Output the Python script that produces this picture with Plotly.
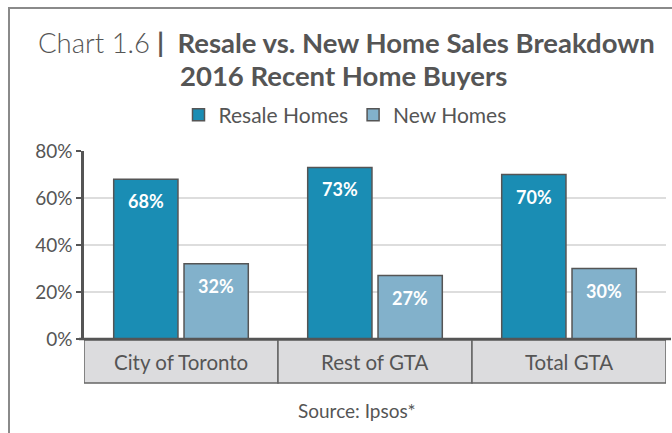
import plotly.graph_objects as go

categories = ["City of Toronto", "Rest of GTA", "Total GTA"]
resale = [68, 73, 70]
new_homes = [32, 27, 30]
series_names = ["Resale Homes", "New Homes"]
y_ticks = [0, 20, 40, 60, 80]
y_tick_labels = ["0%", "20%", "40%", "60%", "80%"]

W, H = 672, 433
ML, MR, MT, MB = 84, 6, 151, 94
PW, PH = W - ML - MR, H - MT - MB
BARGAP = 0.275
FONT = "Lato"
TXT = "#555555"


def px(xp):
    return (xp - ML) / PW


def py(yp):
    return (H - MB - yp) / PH


fig = go.Figure()
fig.add_bar(name=series_names[0], x=categories, y=resale,
            marker=dict(color="#1A8DB4", line=dict(color="#555555", width=1.5)))
fig.add_bar(name=series_names[1], x=categories, y=new_homes,
            marker=dict(color="#82B1CB", line=dict(color="#555555", width=1.5)))

shapes = []
annotations = []
# frame
shapes.append(dict(type="rect", xref="paper", yref="paper", x0=px(9), x1=px(700),
                   y0=py(460), y1=py(8), line=dict(color="#8a8a8a", width=2),
                   fillcolor="rgba(0,0,0,0)", layer="below"))
# category boxes
for i, c in enumerate(categories):
    shapes.append(dict(type="rect", xref="x", yref="paper", x0=i - 0.5, x1=i + 0.5,
                       y0=py(383), y1=py(340), fillcolor="#DCDCDE",
                       line=dict(color="#666666", width=1.5), layer="above"))
    annotations.append(dict(x=i, y=py(362), xref="x", yref="paper", text=c,
                            xanchor="center", yanchor="middle",
                            showarrow=False, font=dict(family=FONT, size=20.5, color=TXT)))
# x axis line
shapes.append(dict(type="line", xref="paper", yref="paper", x0=px(79), x1=px(671),
                   y0=0, y1=0, line=dict(color="#555555", width=2.5)))

# data labels
off = (1 - BARGAP) / 4
for vals, sgn in ((resale, -1), (new_homes, 1)):
    for i, v in enumerate(vals):
        annotations.append(dict(x=i + sgn * off, y=v, xref="x", yref="y",
                                text=f"<b>{v}%</b>", showarrow=False, yanchor="top",
                                xanchor="center", yshift=-9,
                                font=dict(family=FONT, size=18, color="white")))

# titles
annotations.append(dict(x=px(346), y=py(42), xref="paper", yref="paper", showarrow=False,
                        xanchor="center", yanchor="middle",
                        text="<span style='font-weight:300'>Chart 1.6</span> <b>|  Resale vs. New Home Sales Breakdown</b>",
                        font=dict(family=FONT, size=27.5, color=TXT)))
annotations.append(dict(x=px(343), y=py(76), xref="paper", yref="paper", showarrow=False,
                        xanchor="center", yanchor="middle",
                        text="<b>2016 Recent Home Buyers</b>",
                        font=dict(family=FONT, size=27.5, color=TXT)))
annotations.append(dict(x=px(357), y=py(410), xref="paper", yref="paper", showarrow=False,
                        xanchor="center", yanchor="middle",
                        text="Source: Ipsos*",
                        font=dict(family=FONT, size=19, color=TXT)))

fig.update_layout(
    width=W, height=H,
    margin=dict(l=ML, r=MR, t=MT, b=MB, pad=0, autoexpand=False),
    paper_bgcolor="white", plot_bgcolor="white",
    barmode="group", bargap=BARGAP, bargroupgap=0.086,
    font=dict(family=FONT, color=TXT),
    showlegend=True,
    legend=dict(orientation="h", x=px(345), xanchor="center",
                y=py(115), yanchor="middle", font=dict(family=FONT, size=21, color=TXT),
                bgcolor="rgba(0,0,0,0)"),
    shapes=shapes, annotations=annotations,
)
fig.update_xaxes(showticklabels=False, showgrid=False, zeroline=False, showline=False,
                 range=[-0.5, 2.5], automargin=False)
fig.update_yaxes(range=[0, 80], tickvals=y_ticks, ticktext=y_tick_labels, showgrid=True,
                 gridcolor="#DDDDDD", gridwidth=1.5, zeroline=False, showline=True,
                 linecolor="#555555", linewidth=2.5, ticks="outside", ticklen=5,
                 tickcolor="#555555", tickwidth=2, automargin=False,
                 tickfont=dict(family=FONT, size=19, color=TXT))

fig.write_html("out.html", config={"displayModeBar": False},
               post_script="document.body.style.margin='0';document.body.style.overflow='hidden';")
